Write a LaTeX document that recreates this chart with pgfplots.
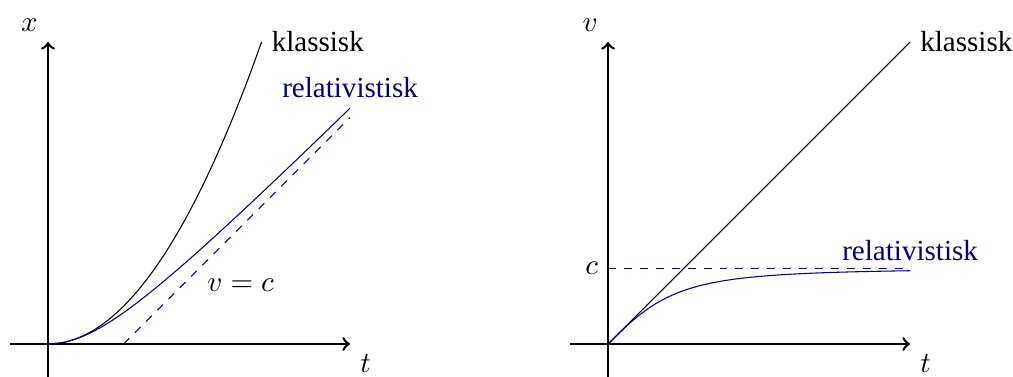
\documentclass[11pt,border=0pt]{standalone}
\usepackage{fontspec}
\setmainfont{Liberation Serif}
\usepackage{pgfplots}
\pgfplotsset{compat=1.18}

\definecolor{rel}{rgb}{0,0,0.5}

\pgfplotsset{
  motion/.style={
    x=1cm, y=1cm, anchor=origin,
    axis lines=middle,
    axis line style={line width=0.95pt, ->, >=to},
    xmin=-0.5, xmax=4, ymin=-0.45, ymax=4,
    xtick=\empty, ytick=\empty,
    enlargelimits=false, clip=false,
  }
}

\begin{document}
\begin{tikzpicture}
\useasboundingbox (-0.636,-0.437) rectangle (12.78,4.556);

% position x(t)
\begin{axis}[motion, at={(0,0)}]
  % light-speed asymptote
  \addplot[rel, dashed] coordinates {(1,0) (4,3)};
  % classical: x = t^2/2
  \addplot[black, smooth] coordinates {
    (0,0) (0.2,0.02) (0.4,0.08) (0.6,0.18) (0.8,0.32) (1.0,0.5)
    (1.2,0.72) (1.4,0.98) (1.6,1.28) (1.8,1.62) (2.0,2.0) (2.2,2.42)
    (2.4,2.88) (2.6,3.38) (2.7,3.645) (2.828,3.999)};
  % relativistic: x = sqrt(1+t^2) - 1
  \addplot[rel, smooth] coordinates {
    (0,0) (0.2,0.0198) (0.4,0.0770) (0.6,0.1662) (0.8,0.2806) (1.0,0.4142)
    (1.2,0.5620) (1.4,0.7205) (1.6,0.8868) (1.8,1.0591) (2.0,1.2361)
    (2.2,1.4166) (2.4,1.6) (2.6,1.7857) (2.8,1.9732) (3.0,2.1623)
    (3.2,2.3526) (3.4,2.5440) (3.6,2.7363) (3.8,2.9294) (4.0,3.1231)};
  \node[above left] at (0,4) {$x$};
  \node[below right] at (4,0) {$t$};
  \node[right] at (2.828,4) {klassisk};
  \node[above, text=rel] at (4,3.1231) {relativistisk};
  \node at (2.55,0.78) {$v=c$};
\end{axis}

% velocity v(t)
\begin{axis}[motion, at={(7.417cm,0)}]
  \addplot[rel, dashed] coordinates {(0,1) (4,1)};
  % classical: v = t
  \addplot[black] coordinates {(0,0) (4,4)};
  % relativistic: v = t/sqrt(1+t^2)
  \addplot[rel, smooth] coordinates {
    (0,0) (0.2,0.1961) (0.4,0.3714) (0.6,0.5145) (0.8,0.6247) (1.0,0.7071)
    (1.2,0.7682) (1.4,0.8137) (1.6,0.8480) (1.8,0.8742) (2.0,0.8944)
    (2.2,0.9104) (2.4,0.9231) (2.6,0.9333) (2.8,0.9417) (3.0,0.9487)
    (3.2,0.9545) (3.4,0.9594) (3.6,0.9635) (3.8,0.9671) (4.0,0.9701)};
  \node[above left] at (0,4) {$v$};
  \node[below right] at (4,0) {$t$};
  \node[left] at (0,1) {$c$};
  \node[right] at (4,4) {klassisk};
  \node[above, text=rel] at (4,0.9701) {relativistisk};
\end{axis}
\end{tikzpicture}
\end{document}
